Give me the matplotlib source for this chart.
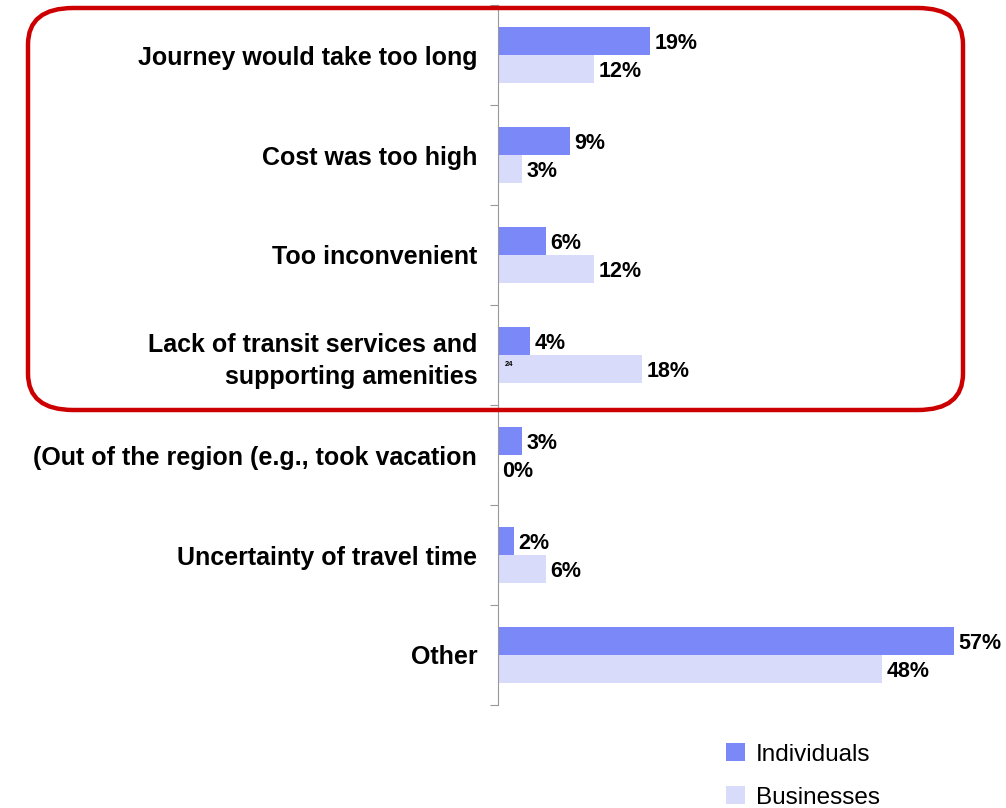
import numpy as np
import matplotlib.pyplot as plt
from matplotlib.patches import FancyBboxPatch

categories = [
    "Journey would take too long",
    "Cost was too high",
    "Too inconvenient",
    "Lack of transit services and\nsupporting amenities",
    "(Out of the region (e.g., took vacation",
    "Uncertainty of travel time",
    "Other",
]
individuals = [19, 9, 6, 4, 3, 2, 57]
businesses = [12, 3, 12, 18, 0, 6, 48]
series_names = ["Individuals", "Businesses"]

c_ind = "#7A88F8"
c_bus = "#D8DBFA"

plt.rcParams["font.family"] = ["Liberation Sans", "DejaVu Sans"]

fig = plt.figure(figsize=(10.06, 8.08), dpi=100)
ax = fig.add_axes([498 / 1006, 1 - 705 / 808, 508 / 1006, 700 / 808])

n = len(categories)
y = np.arange(n) + 0.5
h = 0.28
b1 = ax.barh(y - h / 2, individuals, height=h, color=c_ind, label=series_names[0])
b2 = ax.barh(y + h / 2, businesses, height=h, color=c_bus, label=series_names[1])

for yy, v in zip(y - h / 2, individuals):
    ax.annotate(f"{v}%", (v, yy), xytext=(3, -1.5), textcoords="offset points",
                va="center", ha="left", fontsize=15.5, fontweight="bold")
for yy, v in zip(y + h / 2, businesses):
    ax.annotate(f"{v}%", (v, yy), xytext=(3, -1.5), textcoords="offset points",
                va="center", ha="left", fontsize=15.5, fontweight="bold")

ax.set_xlim(0, 63.5)
ax.set_ylim(n, 0)
ax.set_yticks(np.arange(n + 1))
ax.set_yticklabels([])
ax.set_yticks(y, minor=True)
ax.set_yticklabels(categories, minor=True, fontsize=18, fontweight="bold",
                   linespacing=1.4)
ax.tick_params(axis="y", which="minor", length=0, pad=15)
ax.tick_params(axis="y", which="major", length=6, color="#999999")
ax.set_xticks([])
for s in ["top", "right", "bottom"]:
    ax.spines[s].set_visible(False)
ax.spines["left"].set_color("#999999")

# small stray label inside the bar
ax.text(0.9, y[3] + h / 2 - 0.05, "24", fontsize=5.5, fontweight="bold", va="center")

# red rounded frame
frame = FancyBboxPatch((28 / 1006, 1 - 410 / 808), (963 - 28) / 1006, (410 - 8) / 808,
                       boxstyle="round,pad=0,rounding_size=0.045",
                       transform=fig.transFigure, fill=False, edgecolor="#CC0000",
                       linewidth=3.2)
fig.patches.append(frame)

fig.legend(handles=[b1, b2], labels=series_names, loc="upper left",
           bbox_to_anchor=(707 / 1006, 1 - 724 / 808), frameon=False,
           fontsize=17.5, handlelength=0.75, handleheight=0.75, labelspacing=0.85,
           handletextpad=0.45, borderpad=0.3)

fig.savefig("out.png", dpi=100)
